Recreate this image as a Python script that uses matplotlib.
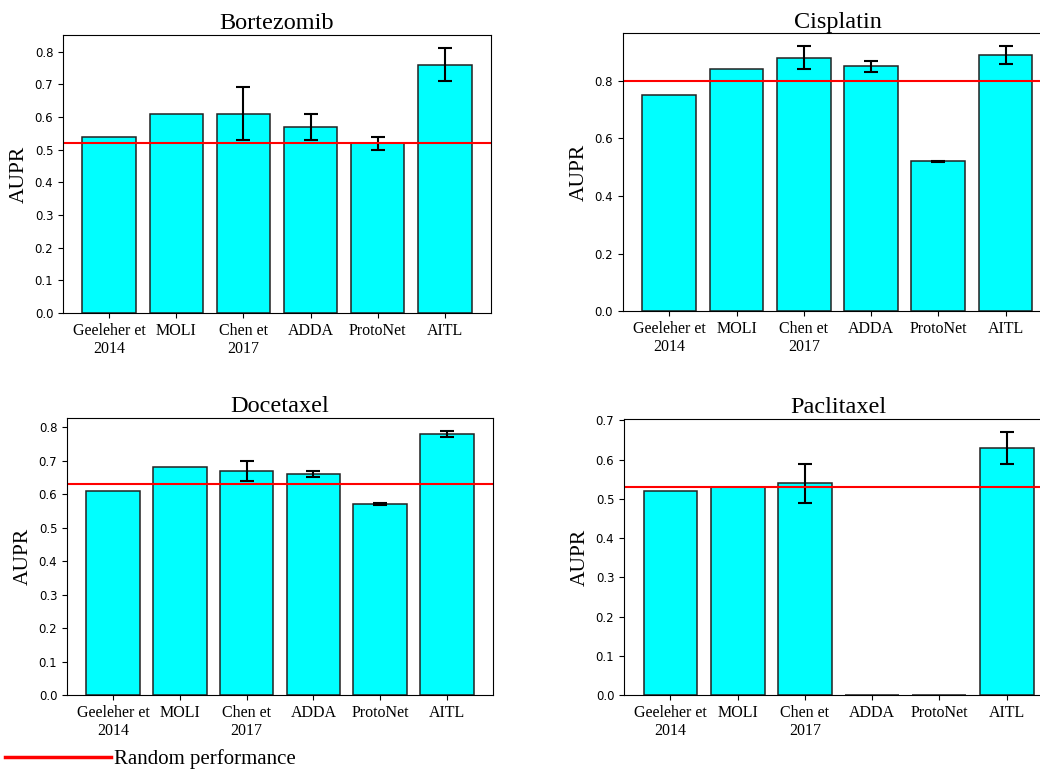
import numpy as np
import matplotlib
matplotlib.use("Agg")
import matplotlib.pyplot as plt
from matplotlib.lines import Line2D

methods = ["Geeleher et\n2014", "MOLI", "Chen et\n2017", "ADDA", "ProtoNet", "AITL"]

drugs = ["Bortezomib", "Cisplatin", "Docetaxel", "Paclitaxel"]

bortezomib_aupr = [0.54, 0.61, 0.61, 0.57, 0.52, 0.76]
bortezomib_err = [0, 0, 0.08, 0.04, 0.02, 0.05]

cisplatin_aupr = [0.75, 0.84, 0.88, 0.85, 0.52, 0.89]
cisplatin_err = [0, 0, 0.04, 0.02, 0.001, 0.03]

docetaxel_aupr = [0.61, 0.68, 0.67, 0.66, 0.57, 0.78]
docetaxel_err = [0, 0, 0.03, 0.01, 0.003, 0.008]

paclitaxel_aupr = [0.52, 0.53, 0.54, 0.0, 0.0, 0.63]
paclitaxel_err = [0, 0, 0.05, 0, 0, 0.04]

random_perf = [0.52, 0.80, 0.63, 0.53]

all_aupr = [bortezomib_aupr, cisplatin_aupr, docetaxel_aupr, paclitaxel_aupr]
all_err = [bortezomib_err, cisplatin_err, docetaxel_err, paclitaxel_err]

# axes boxes (left, bottom, width, height) in figure fraction
boxes = [
    [0.0606, 0.5935, 0.4115, 0.361],
    [0.599, 0.596, 0.4125, 0.361],
    [0.0644, 0.0974, 0.4096, 0.3597],
    [0.600, 0.0974, 0.4125, 0.3584],
]

serif = "Liberation Serif"

fig = plt.figure(figsize=(10.4, 7.7), dpi=100)

for i, drug in enumerate(drugs):
    ax = fig.add_axes(boxes[i])
    vals = np.array(all_aupr[i])
    errs = np.array(all_err[i])
    x = np.arange(len(methods))
    ax.bar(x, vals, width=0.8, color="#00ffff", edgecolor="#222222", linewidth=1.1)
    m = errs > 0
    ax.errorbar(x[m], vals[m], yerr=errs[m], fmt="none", ecolor="black",
                elinewidth=1.5, capsize=5, capthick=1.5)
    ax.axhline(random_perf[i], color="red", linewidth=1.5)
    ax.set_xticks(x)
    ax.set_xticklabels(methods, fontfamily=serif, fontsize=11.5, linespacing=1.15)
    ax.tick_params(axis="y", labelsize=8.5)
    ax.set_ylabel("AUPR", fontfamily=serif, fontsize=15.5)
    ax.set_title(drug, fontfamily=serif, fontsize=17.5, pad=4)

handle = Line2D([], [], color="red", linewidth=2.5)
fig.legend(handles=[handle], labels=["Random performance"], loc="center left",
           bbox_to_anchor=(0.005, 0.014), frameon=False, handlelength=5.1,
           handletextpad=0.1, borderpad=0, borderaxespad=0,
           prop={"family": serif, "size": 15})

fig.savefig("out.png", dpi=100)
